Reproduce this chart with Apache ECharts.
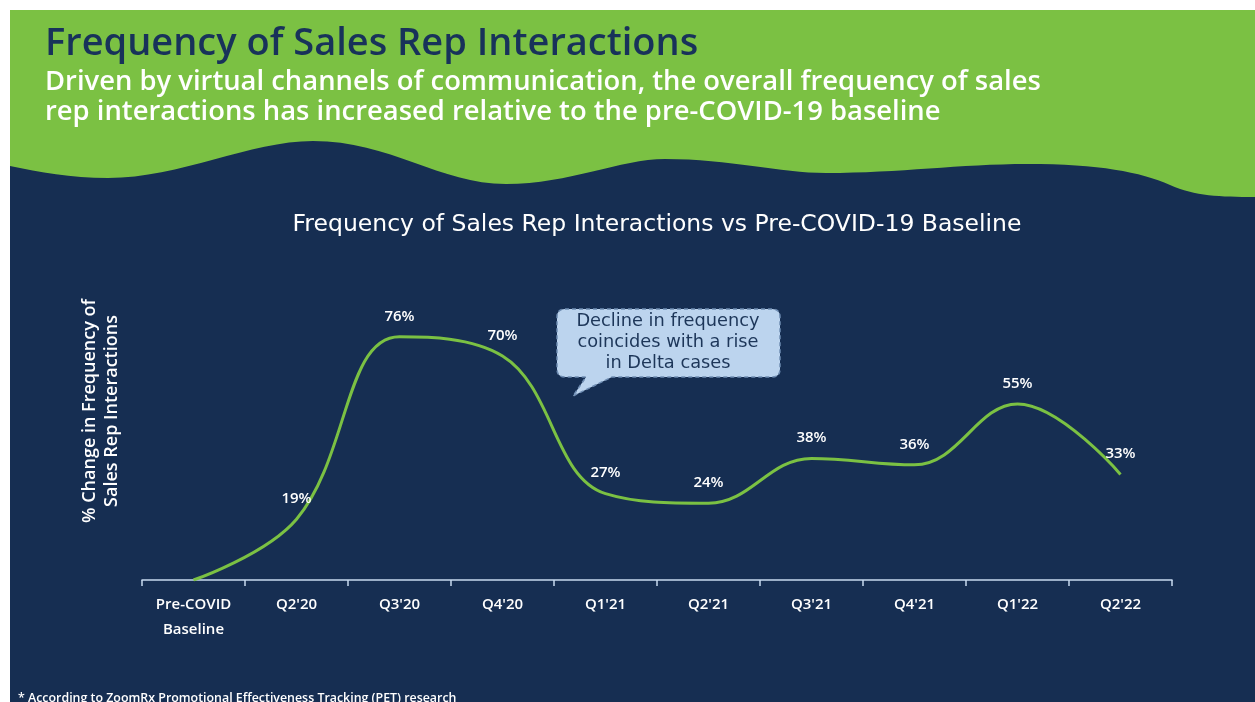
<!DOCTYPE html>
<html>
<head>
<meta charset="utf-8">
<script src="https://cdn.jsdelivr.net/npm/echarts@6/dist/echarts.min.js"></script>
<style>
html,body{margin:0;padding:0;background:#ffffff;}
#chart{width:1255px;height:702px;}
</style>
</head>
<body>
<div id="chart"></div>
<script>
var categories = ["Pre-COVID\nBaseline", "Q2'20", "Q3'20", "Q4'20", "Q1'21", "Q2'21", "Q3'21", "Q4'21", "Q1'22", "Q2'22"];
var values = [0, 19, 76, 70, 27, 24, 38, 36, 55, 33];
var headerTitle = "Frequency of Sales Rep Interactions";
var headerSub = "Driven by virtual channels of communication, the overall frequency of sales\nrep interactions has increased relative to the pre-COVID-19 baseline";
var chartTitle = "Frequency of Sales Rep Interactions vs Pre-COVID-19 Baseline";
var yName = "% Change in Frequency of\nSales Rep Interactions";
var calloutText = "Decline in frequency\ncoincides with a rise\nin Delta cases";
var footnote = "* According to ZoomRx Promotional Effectiveness Tracking (PET) research";

var FONT = "'Open Sans', 'Noto Sans', sans-serif";
var WIDE = "'DejaVu Sans', 'Open Sans', sans-serif";
var NAVY = '#162e52';
var GREEN = '#7bc143';

echarts.graphic.registerShape('waveShape', echarts.graphic.extendPath(
  'M10 166 C40 172 70 178 108 178 C180 178 250 141 313 141 C390 141 440 184 506 184 C570 184 620 159 665 159 C730 159 780 173 826 173 C900 173 960 164 1027 164 C1100 164 1140 172 1170 185 C1195 196 1220 197 1255 197 L1255 10 L10 10 Z', {}));
echarts.graphic.registerShape('calloutShape', echarts.graphic.extendPath(
  'M565 309 L772 309 Q780 309 780 317 L780 369 Q780 377 772 377 L612 377 L573 396 L586 377 L565 377 Q557 377 557 369 L557 317 Q557 309 565 309 Z', {}));

var chart = echarts.init(document.getElementById('chart'), null, {renderer: 'canvas'});

var seriesData = values.map(function (v, i) {
  return i === 0 ? {value: v, label: {show: false}} : v;
});

var option = {
  backgroundColor: '#ffffff',
  animation: false,
  grid: {left: 142, right: 83, top: 260, bottom: 122},
  xAxis: {
    type: 'category',
    data: categories,
    boundaryGap: true,
    axisLine: {lineStyle: {color: '#c7daf0', width: 1.5}},
    axisTick: {show: true, length: 6, lineStyle: {color: '#c7daf0', width: 1.5}},
    axisLabel: {color: '#ffffff', fontFamily: FONT, fontWeight: 600, fontSize: 15, lineHeight: 25, margin: 12, interval: 0}
  },
  yAxis: {
    type: 'value', min: 0, max: 100, show: false
  },
  series: [{
    type: 'line',
    data: seriesData,
    smooth: 0.4,
    showSymbol: true,
    symbol: 'circle',
    symbolSize: 2,
    itemStyle: {color: 'rgba(0,0,0,0)'},
    lineStyle: {color: GREEN, width: 3},
    z: 5,
    label: {
      show: true, position: 'top', distance: 12,
      color: '#ffffff', fontFamily: FONT, fontWeight: 600, fontSize: 15,
      formatter: function (p) { return p.value + '%'; }
    }
  }],
  graphic: [
    {type: 'rect', z: -10, silent: true, shape: {x: 10, y: 10, width: 1245, height: 692}, style: {fill: NAVY}},
    {type: 'waveShape', z: -9, silent: true, style: {fill: GREEN}},
    {type: 'text', z: 10, silent: true, left: 45, top: 25,
      style: {text: headerTitle, fill: '#18325a', font: '600 38px ' + FONT}},
    {type: 'text', z: 10, silent: true, left: 45, top: 67,
      style: {text: headerSub, fill: '#ffffff', font: '600 27.4px ' + FONT, lineHeight: 30}},
    {type: 'text', z: 10, silent: true, x: 657, y: 225,
      style: {text: chartTitle, fill: '#ffffff', font: 'normal 23.5px ' + WIDE, align: 'center', verticalAlign: 'middle'}},
    {type: 'text', z: 10, silent: true, x: 101, y: 411, rotation: Math.PI / 2,
      style: {text: yName, fill: '#ffffff', font: '600 18px ' + FONT, align: 'center', verticalAlign: 'middle', lineHeight: 22}},
    {type: 'calloutShape', z: 8, silent: true,
      style: {fill: '#bcd4ee', stroke: '#6f8db3', lineWidth: 1.5, lineDash: [4, 3]}},
    {type: 'text', z: 9, silent: true, x: 668, y: 342,
      style: {text: calloutText, fill: '#1d3659', font: 'normal 17.8px ' + WIDE, align: 'center', verticalAlign: 'middle', lineHeight: 21}},
    {type: 'text', z: 10, silent: true, left: 18, top: 692,
      style: {text: footnote, fill: '#ffffff', font: '600 12.4px ' + FONT}}
  ]
};
chart.setOption(option);
</script>
</body>
</html>
